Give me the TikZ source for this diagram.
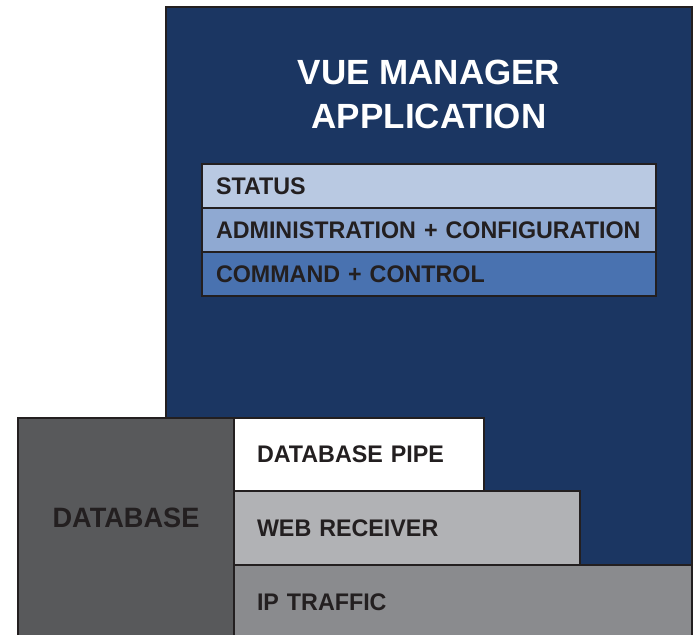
\documentclass[tikz,border=0pt]{standalone}
\usepackage{fontspec}
\setmainfont{Liberation Sans}
\newfontfamily\layerfont{Liberation Sans}[FakeStretch=0.97]
\usetikzlibrary{positioning}
\definecolor{applicationColor}{RGB}{27,54,98}
\definecolor{statusColor}{RGB}{185,201,226}
\definecolor{adminColor}{RGB}{143,169,210}
\definecolor{commandColor}{RGB}{73,114,176}
\definecolor{databaseColor}{RGB}{88,89,91}
\definecolor{receiverColor}{RGB}{177,178,181}
\definecolor{trafficColor}{RGB}{138,139,142}
\definecolor{lineColor}{RGB}{35,31,32}
\tikzset{layer/.append style={draw=lineColor, line width=2pt, outer sep=0pt, inner ysep=0pt, text=lineColor, align=left, font=\layerfont\bfseries\fontsize{24}{28}\selectfont}}
\tikzset{appLayer/.style={layer, anchor=north west, inner xsep=14pt, text width=426pt, minimum height=44pt}}
\tikzset{stackLayer/.style={layer, anchor=north west, inner xsep=23pt}}
\tikzset{title/.style={text=white, align=center, font=\bfseries\fontsize{35}{44}\selectfont}}

\begin{document}
\begin{tikzpicture}[x=1pt, y=-1pt]
\useasboundingbox (0,0) rectangle (695,634);
% Nodes
\node (VueManager) [layer, fill=applicationColor, anchor=north west, minimum width=526pt, minimum height=633pt] at (166,7) {};
\node (Title) [title] at (429,94) {VUE MANAGER\\APPLICATION};

\node (Status) [appLayer, fill=statusColor] at (202,164) {STATUS};
\node (Admin) [appLayer, fill=adminColor, below=0pt of Status.south west, anchor=north west] {ADMINISTRATION + CONFIGURATION};
\node (Command) [appLayer, fill=commandColor, below=0pt of Admin.south west, anchor=north west] {COMMAND + CONTROL};

\node (Database) [layer, fill=databaseColor, anchor=north west, minimum width=216pt, minimum height=222pt] at (18,418) {};
\node (DatabaseLabel) [layer, draw=none, font=\layerfont\bfseries\fontsize{28}{32}\selectfont] at (126,518) {DATABASE};

\node (DatabasePipe) [stackLayer, fill=white, text width=204pt, minimum height=73pt] at (Database.north east) {DATABASE PIPE};
\node (WebReceiver) [stackLayer, fill=receiverColor, text width=300pt, minimum height=74pt, below=0pt of DatabasePipe.south west, anchor=north west] {WEB RECEIVER};
\node (IPTraffic) [stackLayer, fill=trafficColor, text width=412pt, minimum height=75pt, below=0pt of WebReceiver.south west, anchor=north west] {IP TRAFFIC};

\end{tikzpicture}
\end{document}
